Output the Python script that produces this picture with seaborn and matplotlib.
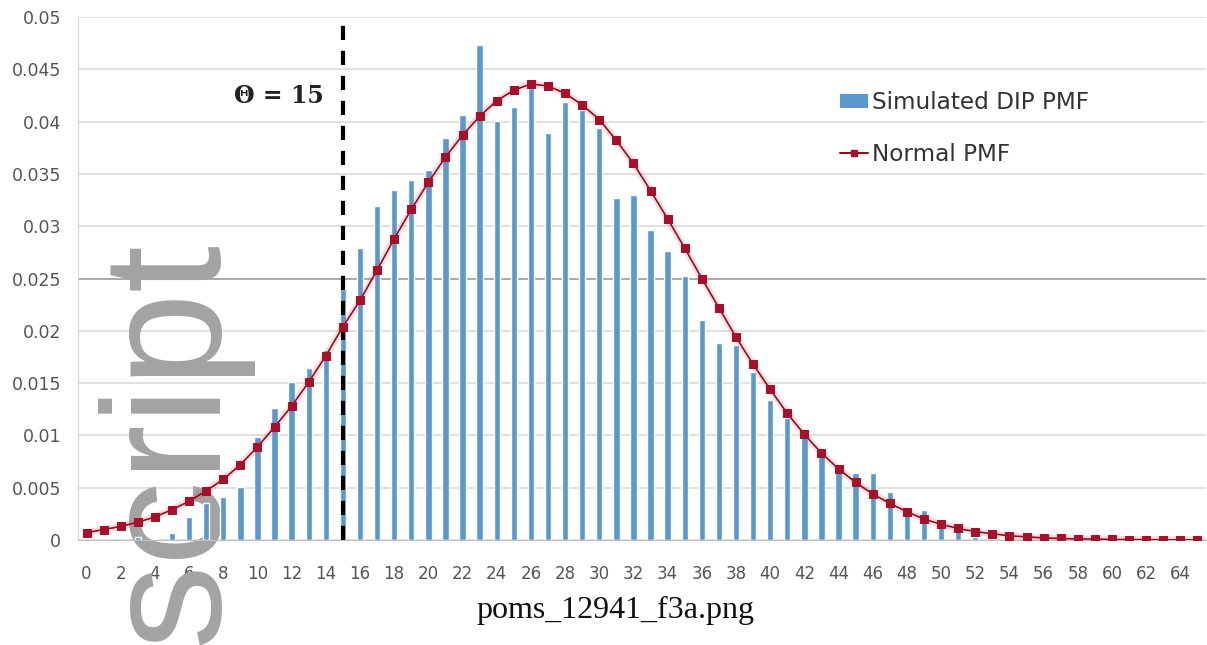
import numpy as np
import pandas as pd
import matplotlib
matplotlib.use("Agg")
import matplotlib.pyplot as plt
import seaborn as sns
from matplotlib.patches import Patch
from matplotlib.lines import Line2D

# ---------------- data ----------------
categories = list(range(0, 66))
sim_pmf = [0, 0, 0, 0.0003, 0.0001, 0.0007, 0.0022, 0.0035, 0.0041, 0.0051,
           0.0098, 0.0126, 0.0151, 0.0164, 0.0182, 0.0240, 0.0279, 0.0319, 0.0335, 0.0344,
           0.0354, 0.0384, 0.0406, 0.0473, 0.0401, 0.0414, 0.0432, 0.0389, 0.0419, 0.0411,
           0.0394, 0.0327, 0.0330, 0.0296, 0.0276, 0.0252, 0.0210, 0.0188, 0.0186, 0.0161,
           0.0134, 0.0117, 0.0099, 0.0081, 0.0065, 0.0064, 0.0064, 0.0046, 0.0029, 0.0029,
           0.0016, 0.0010, 0.0003, 0, 0, 0, 0, 0, 0, 0,
           0, 0, 0, 0, 0, 0]
normal_pmf = [0.0007, 0.0010, 0.0013, 0.0017, 0.0022, 0.0029, 0.0037, 0.0047, 0.0058, 0.0072,
              0.0089, 0.0108, 0.0128, 0.0151, 0.0176, 0.0204, 0.0229, 0.0258, 0.0288, 0.0316,
              0.0342, 0.0366, 0.0387, 0.0405, 0.0420, 0.0430, 0.0436, 0.0434, 0.0427, 0.0416,
              0.0402, 0.0382, 0.0360, 0.0334, 0.0307, 0.0279, 0.0250, 0.0222, 0.0194, 0.0168,
              0.0144, 0.0121, 0.0101, 0.0083, 0.0068, 0.0055, 0.0044, 0.0035, 0.0027, 0.0020,
              0.0015, 0.0011, 0.0008, 0.0006, 0.0004, 0.0003, 0.0002, 0.00015, 0.0001, 0.0001,
              0.00005, 0.00004, 0.00003, 0.00002, 0.00001, 0.00001]
xtick_values = list(range(0, 66, 2))
ytick_values = [0, 0.005, 0.01, 0.015, 0.02, 0.025, 0.03, 0.035, 0.04, 0.045, 0.05]
ytick_labels = ["0", "0.005", "0.01", "0.015", "0.02", "0.025", "0.03", "0.035", "0.04", "0.045", "0.05"]
theta = 15
series_names = ["Simulated DIP PMF", "Normal PMF"]

df = pd.DataFrame({"k": categories, "sim": sim_pmf, "normal": normal_pmf})

# ---------------- style ----------------
sns.set_style("white")
plt.rcParams["font.family"] = ["DejaVu Sans"]

BAR_C = "#5a98d0"
LINE_C = "#8c1020"
MARK_C = "#a8102a"
TXT_C = "#555555"

W, H = 1207, 645
fig = plt.figure(figsize=(W / 100, H / 100), dpi=100)
ax = fig.add_axes([78 / W, 105 / H, (1206 - 78) / W, (540 - 17) / H])

# bars
sns.barplot(data=df, x="k", y="sim", native_scale=True, width=0.37,
            color=BAR_C, saturation=1, ax=ax, zorder=2)

# line halo + line
sns.lineplot(data=df, x="k", y="normal", color="#e84a5f", alpha=0.18,
             linewidth=5, ax=ax, zorder=3, legend=False)
sns.lineplot(data=df, x="k", y="normal", color=LINE_C, linewidth=1.2,
             marker="s", markersize=6, markerfacecolor=MARK_C,
             markeredgecolor=MARK_C, ax=ax, zorder=4, legend=False)

# dashed threshold line
ax.vlines(theta, 0, 0.0495, colors="black", linewidth=3,
          linestyles=(0, (3.4, 2.6)), zorder=3.5)
ax.text(13.9, 0.0424, "\u0398 = 15", ha="right", va="center",
        fontsize=17, fontweight="bold", family="DejaVu Serif", color="#222222")

# axes
ax.set_xlim(-0.5, 65.5)
ax.set_ylim(0, 0.05)
ax.set_yticks(ytick_values)
ax.set_yticklabels(ytick_labels)
ax.set_xticks(xtick_values)
ax.set_xticklabels([str(v) for v in xtick_values])
ax.set_xticks([v + 0.5 for v in categories[:-1]], minor=True)
ax.tick_params(axis="y", length=0, pad=12, labelsize=12.5, labelcolor=TXT_C)
ax.tick_params(axis="x", which="major", length=0, pad=18, labelsize=12, labelcolor=TXT_C)
ax.tick_params(axis="x", which="minor", length=4, color="#d0d0d0", width=1)
ax.set_xlabel("")
ax.set_ylabel("")

ax.set_axisbelow(True)
ax.yaxis.grid(True, color="#dcdcdc", linewidth=1.2)
ax.axhline(0.025, color="#a6a6a6", linewidth=1.3, zorder=0.6)
for s in ["top", "right"]:
    ax.spines[s].set_visible(False)
ax.spines["left"].set_color("#d6d6d6")
ax.spines["bottom"].set_color("#bfbfbf")

# legend
handles = [Patch(facecolor=BAR_C, edgecolor="none"),
           Line2D([], [], color=LINE_C, linewidth=1.5, marker="s", markersize=5,
                  markerfacecolor=MARK_C, markeredgecolor=MARK_C)]
leg = fig.legend(handles, series_names, loc="upper left",
                 bbox_to_anchor=(840 / W, (H - 91) / H), frameon=False,
                 fontsize=16.7, handlelength=1.2, handleheight=0.55,
                 handletextpad=0.2, labelspacing=1.25, borderpad=0, borderaxespad=0)
for t in leg.get_texts():
    t.set_color("#333333")

# watermark (behind bars, above grid)
ax.text(216 / W, (H - 240) / H, "script", transform=fig.transFigure,
        rotation=90, rotation_mode="anchor", ha="right", va="baseline",
        fontsize=122, family="Liberation Sans", color="#a3a3a3",
        zorder=1.5, clip_on=False)

# caption
fig.text(615 / W, (H - 610) / H, "poms_12941_f3a.png", ha="center", va="center",
         fontsize=23, family="Liberation Serif", color="#111111")

fig.savefig("out.png", dpi=100)
